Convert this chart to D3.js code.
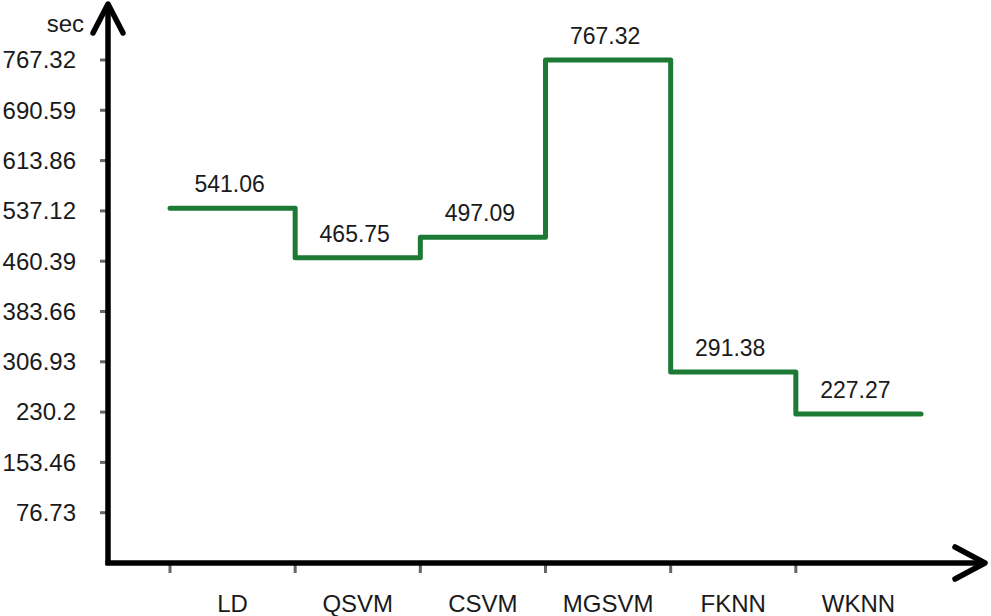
<!DOCTYPE html>
<html><head><meta charset="utf-8">
<script src="https://cdn.jsdelivr.net/npm/d3@7"></script>
<style>
html,body{margin:0;padding:0;background:#fff;}
svg text{font-family:"Liberation Sans",Arial,sans-serif;fill:#1a1a1a;}
</style></head>
<body><svg id="c" width="991" height="616"></svg>
<script>
const categories = ["LD","QSVM","CSVM","MGSVM","FKNN","WKNN"];
const values = [541.06, 465.75, 497.09, 767.32, 291.38, 227.27];
const valueLabels = ["541.06","465.75","497.09","767.32","291.38","227.27"];
const yTicks = [76.73,153.46,230.2,306.93,383.66,460.39,537.12,613.86,690.59,767.32];
const yTickLabels = ["76.73","153.46","230.2","306.93","383.66","460.39","537.12","613.86","690.59","767.32"];
const yUnit = "sec";

const svg = d3.select("#c");
const axisX0 = 108, axisY0 = 563;
const x = d3.scaleBand().domain(categories).range([170, 921]).padding(0);
const y = d3.scaleLinear().domain([0, 767.32]).range([axisY0, 60]);

// y tick marks
svg.append("g").selectAll("line").data(yTicks).join("line")
  .attr("x1", 100).attr("x2", 106)
  .attr("y1", d => y(d)).attr("y2", d => y(d))
  .attr("stroke", "#666").attr("stroke-width", 3);
// y tick labels
svg.append("g").selectAll("text").data(yTicks).join("text")
  .attr("x", 76).attr("y", d => y(d)).attr("dy", "0.35em")
  .attr("text-anchor", "end").attr("font-size", 24)
  .text((d, i) => yTickLabels[i]);

// x tick marks at band starts
svg.append("g").selectAll("line").data(categories).join("line")
  .attr("x1", d => x(d)).attr("x2", d => x(d))
  .attr("y1", axisY0).attr("y2", axisY0 + 10)
  .attr("stroke", "#666").attr("stroke-width", 3);
// x labels
svg.append("g").selectAll("text").data(categories).join("text")
  .attr("x", d => x(d) + x.bandwidth() / 2).attr("y", 612)
  .attr("text-anchor", "middle").attr("font-size", 24)
  .text(d => d);

// axes
svg.append("line").attr("x1", axisX0).attr("x2", axisX0).attr("y1", axisY0 + 2).attr("y2", 5)
  .attr("stroke", "#000").attr("stroke-width", 5.5);
svg.append("line").attr("x1", axisX0 - 2.5).attr("x2", 984).attr("y1", axisY0).attr("y2", axisY0)
  .attr("stroke", "#000").attr("stroke-width", 5.5);
// arrowheads
svg.append("path").attr("d", `M${axisX0-15},33 L${axisX0},4 L${axisX0+15},33`)
  .attr("fill", "none").attr("stroke", "#000").attr("stroke-width", 5.5)
  .attr("stroke-linecap", "round").attr("stroke-linejoin", "round");
svg.append("path").attr("d", `M955,${axisY0-16} L985,${axisY0} L955,${axisY0+16}`)
  .attr("fill", "none").attr("stroke", "#000").attr("stroke-width", 5.5)
  .attr("stroke-linecap", "round").attr("stroke-linejoin", "round");

svg.append("text").attr("x", 84).attr("y", 32).attr("text-anchor", "end")
  .attr("font-size", 24).text(yUnit);

// step line
const pts = categories.map((c, i) => [x(c), values[i]]);
pts.push([x(categories[categories.length - 1]) + x.bandwidth(), values[values.length - 1]]);
const line = d3.line().x(d => d[0]).y(d => y(d[1])).curve(d3.curveStepAfter);
svg.append("path").datum(pts).attr("d", line)
  .attr("fill", "none").attr("stroke", "#1c7a34").attr("stroke-width", 5)
  .attr("stroke-linejoin", "round").attr("stroke-linecap", "round");

// value labels
svg.append("g").selectAll("text").data(categories).join("text")
  .attr("x", d => x(d) + x.bandwidth() / 2 - 3)
  .attr("y", (d, i) => y(values[i]) - 16)
  .attr("text-anchor", "middle").attr("font-size", 23)
  .text((d, i) => valueLabels[i]);
</script></body></html>
